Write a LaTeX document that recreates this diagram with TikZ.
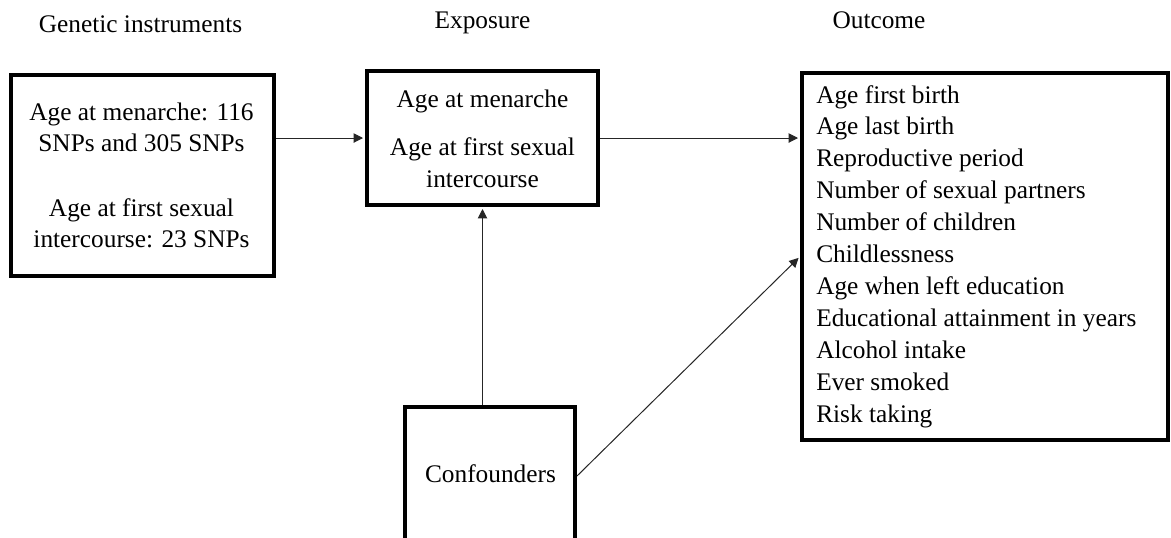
\documentclass[tikz,border=0pt]{standalone}
\usepackage{fontspec}
\setmainfont{Liberation Serif}
\usetikzlibrary{arrows.meta}
\begin{document}
\begin{tikzpicture}[x=0.75pt,y=-0.75pt,
  box/.style={draw=black,line width=3pt,fill=none,inner sep=0pt},
  txt/.style={inner sep=0pt,anchor=base,font=\fontsize{19}{23}\selectfont},
  ltxt/.style={txt,anchor=base west},
  conn/.style={line width=0.75pt,draw=black!85},
  arr/.style={conn,-{Triangle[length=7pt,width=7pt]},shorten >=1.5pt}]
\useasboundingbox (0,0) rectangle (1171,537);
\clip (0,0) rectangle (1171,537);
% headers
\node[txt] (h1) at (140.5,32) {Genetic instruments};
\node[txt] (h2) at (482.5,28) {Exposure};
\node[txt] (h3) at (879,28) {Outcome};
% boxes
\node[box,minimum width=197.25pt,minimum height=150.75pt] (gen) at (142.5,175.5) {};
\node[box,minimum width=173.25pt,minimum height=100.5pt] (exp) at (482.5,138) {};
\node[box,minimum width=274.5pt,minimum height=275.25pt] (out) at (985,256.5) {};
\node[box,minimum width=127.5pt,minimum height=103.5pt] (conf) at (490,476) {};
% genetic text
\node[txt] (g1) at (141.5,120) {Age at menarche: 116};
\node[txt] (g2) at (141.5,151) {SNPs and 305 SNPs};
\node[txt] (g3) at (141.5,216) {Age at first sexual};
\node[txt] (g4) at (141.5,247) {intercourse: 23 SNPs};
% exposure text
\node[txt] (e1) at (482.5,107) {Age at menarche};
\node[txt] (e2) at (482.5,155) {Age at first sexual};
\node[txt] (e3) at (482.5,187) {intercourse};
% confounders text
\node[txt] (c1) at (490.5,482) {Confounders};
% outcome list
\foreach \t [count=\i from 0] in {Age first birth,Age last birth,Reproductive period,Number of sexual partners,Number of children,Childlessness,Age when left education,Educational attainment in years,Alcohol intake,Ever smoked,Risk taking}
  \node[ltxt] (o\i) at (816,103+31.9*\i) {\t};
% connectors
\draw[arr] (gen.east |- exp.west) -- (exp.west);
\draw[arr] (exp.east) -- (exp.east -| out.west);
\draw[arr] (exp.south |- conf.north) -- (exp.south);
\draw[arr] (conf.east) -- (out.west);
\end{tikzpicture}
\end{document}
